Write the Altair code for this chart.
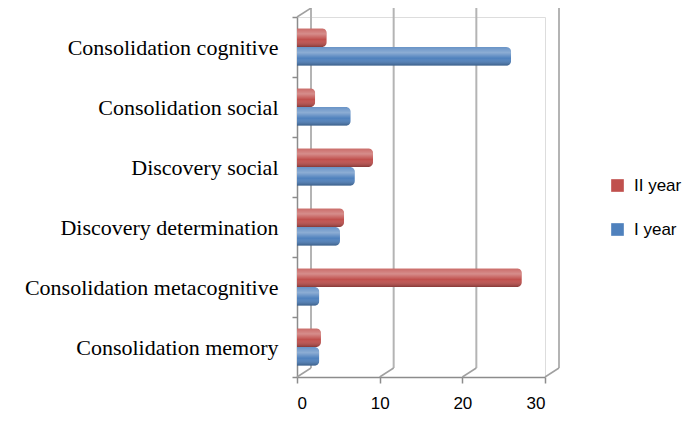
import altair as alt
import pandas as pd

categories = ["Consolidation cognitive", "Consolidation social", "Discovery social",
              "Discovery determination", "Consolidation metacognitive", "Consolidation memory"]
series = ["II year", "I year"]
ii_year = [3.6, 2.2, 9.2, 5.7, 27.2, 2.9]
i_year = [25.9, 6.5, 7.0, 5.2, 2.7, 2.7]
x_ticks = [0, 10, 20, 30]
colors = ["#C0504D", "#4F81BD"]

rows = []
for c, a, b in zip(categories, ii_year, i_year):
    rows.append({"category": c, "series": "II year", "value": a})
    rows.append({"category": c, "series": "I year", "value": b})
df = pd.DataFrame(rows)
grid_df = pd.DataFrame({"t": x_ticks})

W, H = 248, 360
DEPTH_X, DEPTH_Y = 14, 9

xscale = alt.Scale(domain=[0, 30], nice=False, zero=True)
yscale = alt.Scale(domain=categories, paddingInner=0, paddingOuter=0)

x_axis = alt.Axis(values=x_ticks, grid=False, domainColor="#8c8c8c", domainWidth=1.5,
                  tickColor="#8c8c8c", tickSize=6, tickWidth=1.5, labelPadding=12,
                  labelFont="Liberation Sans", labelFontSize=17, labelColor="#000",
                  title=None)

grid = alt.Chart(grid_df).mark_rule(color="#b4b4b4", strokeWidth=2, xOffset=DEPTH_X).encode(
    x=alt.X("t:Q", scale=xscale, axis=x_axis),
    y=alt.value(-DEPTH_Y),
    y2=alt.value(H - DEPTH_Y),
)

floor = alt.Chart(grid_df).transform_calculate(
    t2=f"datum.t + 30 * {DEPTH_X} / {W}"
).mark_rule(color="#a0a0a0", strokeWidth=1.5).encode(
    x=alt.X("t:Q", scale=xscale),
    x2="t2:Q",
    y=alt.value(H),
    y2=alt.value(H - DEPTH_Y),
)

top_edge = alt.Chart(grid_df).transform_filter("datum.t == 0").transform_calculate(
    t2=f"datum.t + 30 * {DEPTH_X} / {W}"
).mark_rule(color="#a0a0a0", strokeWidth=1.5).encode(
    x=alt.X("t:Q", scale=xscale),
    x2="t2:Q",
    y=alt.value(0),
    y2=alt.value(-DEPTH_Y),
)

yoff = alt.YOffset("series:N", sort=series, scale=alt.Scale(paddingOuter=0.6, paddingInner=0))

bars = alt.Chart(df).mark_bar(cornerRadiusEnd=5).encode(
    x=alt.X("value:Q", scale=xscale),
    y=alt.Y("category:N", scale=yscale, sort=categories,
            axis=alt.Axis(tickBand="extent", domainColor="#8c8c8c", domainWidth=1.5,
                          tickColor="#8c8c8c", tickSize=5, tickWidth=1.5, labelPadding=14,
                          labelFont="Liberation Serif", labelFontSize=22, labelColor="#000",
                          labelLimit=400, title=None)),
    yOffset=yoff,
    color=alt.Color("series:N", sort=series,
                    scale=alt.Scale(domain=series, range=colors),
                    legend=alt.Legend(title=None, orient="none", legendX=312, legendY=160,
                                      symbolType="square", symbolSize=160, symbolStrokeWidth=0,
                                      rowPadding=26, labelFont="Liberation Sans",
                                      labelFontSize=17, labelColor="#000", labelOffset=8)),
)

shade = alt.Chart(df).mark_bar(
    cornerRadiusEnd=5,
    color=alt.LinearGradient(
        gradient="linear", x1=0, x2=0, y1=0, y2=1,
        stops=[alt.GradientStop(color="rgba(255,255,255,0.15)", offset=0),
               alt.GradientStop(color="rgba(255,255,255,0.35)", offset=0.3),
               alt.GradientStop(color="rgba(255,255,255,0.0)", offset=0.6),
               alt.GradientStop(color="rgba(0,0,0,0.3)", offset=1)]),
).encode(
    x=alt.X("value:Q", scale=xscale),
    y=alt.Y("category:N", scale=yscale, sort=categories),
    yOffset=yoff,
)

chart = alt.layer(grid, floor, top_edge, bars, shade).properties(
    width=W, height=H,
    autosize=alt.AutoSizeParams(type="none"),
    padding={"left": 289, "top": 9, "right": 141, "bottom": 36},
).configure_view(strokeWidth=0).configure(background="white")

chart.save("out.html", embed_options={"renderer": "svg", "actions": False})
